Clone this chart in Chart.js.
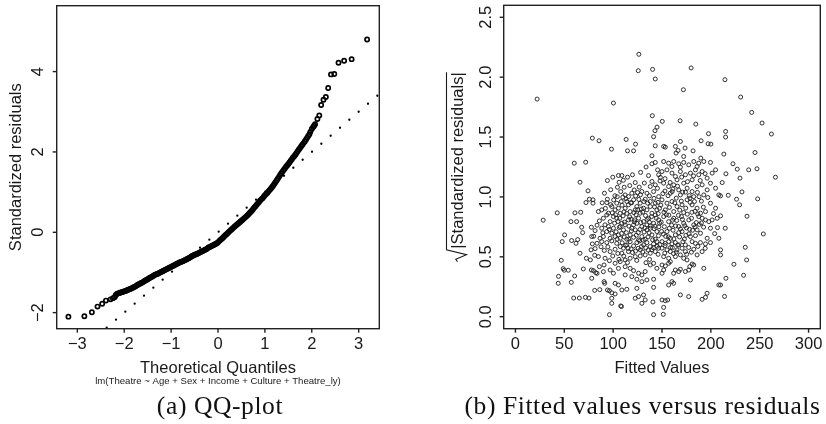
<!DOCTYPE html>
<html><head><meta charset="utf-8">
<script src="https://cdn.jsdelivr.net/npm/chart.js@4.4.1/dist/chart.umd.min.js"></script>
<style>
html,body{margin:0;padding:0;background:#fff;}
#wrap{position:relative;width:826px;height:424px;overflow:hidden;background:#fff;}
canvas{position:absolute;top:0;}
#c1{left:0;} #c2{left:413px;}
</style></head><body>
<div id="wrap"><canvas id="c1" width="413" height="424"></canvas><canvas id="c2" width="413" height="424"></canvas></div>
<script>
// ---------------- (a) QQ-plot data ----------------
const qqTheoretical = [
 -3.19,-2.85,-2.69,-2.57,-2.47,-2.39,-2.29,-2.24,-2.20,-2.18,
 -2.15,-2.10,-2.05,-2.00,-1.95,-1.90,-1.85,-1.80,-1.75,-1.70,-1.65,-1.60,-1.55,-1.50,-1.45,-1.40,-1.35,-1.30,-1.25,-1.20,
 -1.15,-1.10,-1.05,-1.00,-0.95,-0.90,-0.85,-0.80,-0.75,-0.70,-0.65,-0.60,-0.55,-0.50,-0.45,-0.40,-0.35,-0.30,-0.25,-0.20,
 -0.15,-0.10,-0.05,0.00,0.05,0.10,0.15,0.20,0.25,0.30,0.35,0.40,0.45,0.50,0.55,0.60,0.65,0.70,0.75,0.80,
 0.85,0.90,0.95,1.00,1.05,1.10,1.15,1.20,1.25,1.30,1.35,1.40,1.45,1.50,1.55,1.60,1.65,1.70,1.75,1.80,1.85,1.90,1.95,
 1.97,2.00,2.03,2.05,2.07,2.12,2.16,2.20,2.25,2.30,2.35,2.41,2.48,2.57,2.69,2.85,3.18,
 -2.125,-2.075,-2.025,-1.975,-1.925,-1.875,-1.825,-1.775,-1.725,-1.675,-1.625,-1.575,-1.525,-1.475,-1.425,-1.375,-1.325,-1.275,
 -1.225,-1.175,-1.125,-1.075,-1.025,-0.975,-0.925,-0.875,-0.825,-0.775,-0.725,-0.675,-0.625,-0.575,-0.525,-0.475,-0.425,-0.375,
 -0.325,-0.275,-0.225,-0.175,-0.125,-0.075,-0.025,0.025,0.075,0.125,0.175,0.225,0.275,0.325,0.375,0.425,0.475,0.525,
 0.575,0.625,0.675,0.725,0.775,0.825,0.875,0.925,0.975,1.025,1.075,1.125,1.175,1.225,1.275,1.325,1.375,1.425,
 1.475,1.525,1.575,1.625,1.675,1.725,1.775,1.825,1.875,1.925
];
const qqSample = [
 -2.10,-2.09,-1.99,-1.85,-1.78,-1.70,-1.67,-1.64,-1.61,-1.56,
 -1.53,-1.51,-1.49,-1.47,-1.45,-1.42,-1.40,-1.37,-1.34,-1.30,-1.27,-1.24,-1.20,-1.17,-1.13,-1.10,-1.06,-1.04,-1.01,-0.98,
 -0.95,-0.92,-0.89,-0.86,-0.83,-0.80,-0.77,-0.74,-0.72,-0.69,-0.66,-0.63,-0.59,-0.56,-0.54,-0.51,-0.48,-0.45,-0.42,-0.38,
 -0.35,-0.32,-0.29,-0.25,-0.19,-0.14,-0.08,-0.03,0.03,0.08,0.14,0.19,0.24,0.29,0.34,0.39,0.45,0.51,0.58,0.65,
 0.72,0.79,0.85,0.92,0.98,1.05,1.12,1.20,1.29,1.38,1.47,1.55,1.63,1.70,1.78,1.86,1.93,2.02,2.10,2.18,2.26,2.35,2.44,
 2.50,2.57,2.62,2.65,2.69,2.82,2.91,3.17,3.30,3.37,3.59,3.93,3.94,4.22,4.27,4.31,4.80,
 -1.52,-1.50,-1.48,-1.46,-1.435,-1.41,-1.385,-1.355,-1.32,-1.285,-1.255,-1.22,-1.185,-1.15,-1.115,-1.08,-1.05,-1.025,
 -0.995,-0.965,-0.935,-0.905,-0.875,-0.845,-0.815,-0.785,-0.755,-0.73,-0.705,-0.675,-0.645,-0.61,-0.575,-0.55,-0.525,-0.495,
 -0.465,-0.435,-0.40,-0.365,-0.335,-0.305,-0.27,-0.22,-0.165,-0.11,-0.055,0.00,0.055,0.11,0.165,0.215,0.265,0.315,
 0.365,0.42,0.48,0.545,0.615,0.685,0.755,0.82,0.885,0.95,1.015,1.085,1.16,1.245,1.335,1.425,1.51,1.59,
 1.665,1.74,1.82,1.895,1.975,2.06,2.14,2.22,2.305,2.395
];
const qqLineX = [-3.44, 3.44];   // reference line y = x
const qqLineY = [-3.44, 3.44];
const qqXTicks = [-3,-2,-1,0,1,2,3];
const qqYTicks = [-2,0,2,4];

// ---------------- (b) Fitted values vs sqrt|std resid| ----------------
const fittedVsSqrtResid = [
 [22.2,1.817],[126.3,2.191],[125.7,2.054],[140.4,2.065],[143.1,1.985],[179.8,2.077],[214.4,1.979],[171.9,1.895],[230.5,1.834],[100.3,1.784],
 [241.8,1.706],[252.4,1.617],[262.0,1.525],[140.1,1.678],[150.3,1.631],[168.5,1.636],[184.6,1.608],[144.9,1.583],[142.8,1.553],[141.4,1.503],
 [197.6,1.528],[215.1,1.547],[215.1,1.500],[78.7,1.491],[85.6,1.469],[113.3,1.480],[122.9,1.441],[98.3,1.399],[114.7,1.385],[120.9,1.385],
 [143.1,1.427],[151.7,1.422],[139.7,1.344],[168.8,1.463],[163.7,1.422],[166.4,1.388],[164.4,1.366],[190.0,1.469],[197.2,1.444],[200.0,1.441],
 [173.6,1.408],[181.8,1.385],[172.2,1.338],[189.7,1.324],[213.3,1.358],[245.2,1.371],[153.4,1.416],
 [60.2,1.282],[71.9,1.290],[66.1,1.123],[74.3,1.051],[72.2,0.953],[75.7,0.981],[79.4,0.976],[79.4,0.948],[42.8,0.867],[28.4,0.806],
 [60.9,0.867],[66.8,0.872],[56.8,0.794],[62.6,0.794],[84.9,0.878],[67.8,0.747],[68.8,0.702],[77.7,0.747],[83.5,0.764],[50.3,0.683],
 [47.9,0.627],[57.5,0.636],[62.0,0.613],[63.7,0.644],[78.1,0.669],[80.1,0.672],[77.4,0.558],[81.5,0.569],[78.7,0.608],[83.5,0.613],
 [66.1,0.530],[72.6,0.488],[76.7,0.474],[81.1,0.513],[46.9,0.471],[48.9,0.401],[50.0,0.388],[54.1,0.388],[44.1,0.337],[43.8,0.279],
 [57.2,0.287],[60.6,0.340],[69.5,0.399],[77.7,0.390],[79.8,0.385],[82.2,0.368],[78.1,0.321],[81.1,0.220],[59.6,0.156],[65.4,0.156],
 [71.6,0.162],[75.3,0.156],[86.6,0.655],[84.9,0.502],[85.9,0.418],[83.5,0.362],[85.9,0.800],[81.5,0.719],[86.3,0.226],
 [139.7,1.277],[143.1,1.288],[145.5,1.226],[146.6,1.185],[94.1,1.137],[99.6,1.165],[105.4,1.179],[108.9,1.179],[114.7,1.165],[119.8,1.185],
 [122.6,1.120],[139.7,1.129],[143.1,1.101],[138.0,1.087],[104.4,1.081],[111.3,1.081],[107.8,1.045],[112.3,1.017],[109.9,0.998],[115.7,1.003],
 [119.1,1.031],[125.0,1.037],[129.4,1.045],[134.6,1.031],[141.4,1.045],[146.6,1.003],[94.1,0.981],[93.5,0.953],[98.6,0.920],[103.7,0.948],
 [114.0,0.962],[120.9,0.976],[127.7,0.948],[132.8,0.981],[138.0,0.962],[143.1,0.948],[88.3,0.892],[95.2,0.864],[102.0,0.892],[107.2,0.864],
 [112.3,0.906],[117.4,0.878],[122.6,0.892],[127.7,0.864],[134.6,0.892],[139.7,0.864],[144.8,0.892],[90.0,0.822],[96.9,0.794],[103.7,0.822],
 [108.9,0.780],[115.7,0.808],[120.9,0.767],[126.0,0.822],[131.1,0.794],[136.3,0.822],[141.4,0.780],[146.6,0.808],[88.3,0.739],[93.5,0.711],
 [100.3,0.739],[105.4,0.683],[110.6,0.725],[117.4,0.683],[122.6,0.725],[129.4,0.669],[134.6,0.725],[139.7,0.683],[144.8,0.711],[96.9,0.655],
 [114.0,0.647],[126.0,0.641],[143.1,0.647],[91.7,0.767],[95.2,0.753],[98.6,0.697],[102.0,0.669],[107.2,0.753],[112.3,0.767],[119.1,0.739],
 [124.3,0.780],[129.4,0.753],[134.6,0.767],[138.0,0.739],[93.5,0.850],[100.3,0.836],[105.4,0.906],[115.7,0.934],[124.3,0.920],[131.1,0.906],
 [138.0,0.920],[143.1,0.850],[90.0,0.669],[107.2,0.655],[120.9,0.663],[132.8,0.647],
 [91.7,0.488],[96.2,0.468],[90.7,0.432],[102.0,0.446],[107.2,0.460],[112.3,0.474],[117.4,0.488],[122.6,0.502],[127.7,0.507],[132.8,0.516],
 [138.0,0.530],[143.1,0.544],[146.5,0.572],[90.0,0.376],[96.9,0.390],[100.3,0.363],[105.4,0.404],[112.3,0.418],[117.4,0.404],[120.9,0.385],
 [126.0,0.363],[129.4,0.349],[132.8,0.377],[138.0,0.432],[141.4,0.446],[144.8,0.404],[112.3,0.349],[119.1,0.335],[124.3,0.313],[129.4,0.293],
 [134.5,0.307],[141.4,0.313],[90.7,0.293],[91.4,0.279],[102.0,0.279],[105.4,0.265],[94.2,0.223],[96.2,0.217],[98.6,0.200],[102.0,0.190],
 [108.9,0.223],[114.0,0.229],[124.3,0.237],[141.4,0.245],[98.6,0.154],[98.6,0.112],[122.6,0.154],[126.0,0.168],[131.1,0.182],[132.8,0.140],
 [129.4,0.112],[140.7,0.123],[107.8,0.090],[108.5,0.085],[96.2,0.017],[141.4,0.017],[88.3,0.627],[93.5,0.619],[98.6,0.633],[103.7,0.613],
 [107.2,0.586],[110.6,0.572],[114.0,0.600],[117.4,0.627],[120.9,0.591],[124.3,0.619],[127.7,0.558],[131.1,0.600],[134.5,0.619],[138.0,0.586],
 [141.4,0.608],[144.8,0.627],[102.0,0.563],[115.7,0.544],[96.9,0.544],[108.9,0.530],
 [151.7,1.296],[156.8,1.282],[162.0,1.296],[167.1,1.277],[172.2,1.288],[177.4,1.268],[182.5,1.296],[187.6,1.282],[192.8,1.296],[199.6,1.288],
 [160.2,1.254],[168.8,1.249],[185.9,1.254],[150.0,1.212],[155.1,1.226],[160.2,1.199],[163.7,1.171],[168.8,1.212],[174.0,1.185],[179.1,1.199],
 [184.2,1.226],[187.6,1.185],[191.1,1.212],[196.2,1.157],[201.3,1.199],[204.8,1.226],[165.4,1.143],[180.8,1.143],[151.7,1.115],[156.8,1.087],
 [162.0,1.101],[167.1,1.059],[172.2,1.115],[175.7,1.073],[180.8,1.045],[185.9,1.087],[191.1,1.101],[196.2,1.059],[199.6,1.115],[204.8,1.073],
 [208.2,1.017],[158.5,1.031],[168.8,1.017],[182.5,1.003],[192.8,1.017],[150.0,0.976],[155.1,0.948],[160.2,0.962],[165.4,0.920],[170.5,0.934],
 [175.7,0.976],[180.8,0.934],[185.9,0.906],[189.4,0.864],[194.5,0.878],[199.6,0.948],[204.8,0.906],[162.0,0.878],[153.4,0.892],[172.2,0.870],
 [151.7,0.836],[156.8,0.794],[162.0,0.822],[167.1,0.753],[172.2,0.780],[177.4,0.808],[182.5,0.767],[187.6,0.836],[191.1,0.822],[194.5,0.808],
 [197.9,0.794],[201.3,0.808],[206.5,0.822],[155.1,0.711],[163.7,0.683],[170.5,0.711],[179.1,0.669],[185.9,0.725],[189.4,0.697],[199.6,0.739],
 [208.2,0.655],[158.5,0.655],[196.2,0.655],
 [150.0,0.627],[153.4,0.613],[156.8,0.627],[160.2,0.608],[163.7,0.619],[167.1,0.600],[173.9,0.600],[180.8,0.627],[184.2,0.613],[189.3,0.619],
 [194.5,0.608],[199.6,0.619],[150.0,0.572],[155.1,0.558],[158.5,0.544],[165.4,0.558],[170.5,0.572],[173.9,0.544],[182.5,0.563],[191.0,0.544],
 [209.9,0.558],[209.9,0.516],[151.7,0.502],[156.8,0.488],[163.7,0.502],[168.8,0.516],[172.2,0.488],[175.6,0.474],[185.9,0.516],[150.0,0.432],
 [153.4,0.424],[156.8,0.446],[158.5,0.460],[161.9,0.363],[163.7,0.390],[167.1,0.377],[168.8,0.396],[173.9,0.377],[177.3,0.390],[180.8,0.440],
 [182.5,0.432],[178.4,0.418],[192.8,0.404],[151.7,0.390],[150.0,0.363],[160.2,0.293],[161.9,0.279],[156.8,0.265],[179.1,0.307],[208.2,0.265],
 [168.8,0.182],[177.3,0.168],[191.0,0.145],[196.1,0.196],[194.5,0.162],[150.0,0.140],[153.4,0.134],[155.8,0.140],[151.7,0.078],[151.3,0.020],
 [222.6,1.277],[227.0,1.232],[238.7,1.226],[247.2,1.235],[215.4,1.193],[211.6,1.120],[229.8,1.157],[266.1,1.165],[209.9,1.009],[217.8,1.014],
 [231.8,1.042],[226.3,0.981],[229.4,0.934],[247.9,0.984],[209.9,0.842],[237.0,0.839],[214.7,0.739],[253.7,0.691],[235.2,0.580],[236.6,0.474],
 [223.6,0.438],[215.4,0.321],[233.5,0.346],[209.9,0.265],[214.0,0.170],[206.8,0.744],
 [97.5,1.060],[101.8,1.010],[106.1,1.122],[110.4,1.139],[117.0,1.095],[121.5,1.058],[126.7,1.082],[131.9,1.116],[136.2,1.178],[128.1,1.205],
 [133.7,1.250],[145.3,1.072],[148.0,1.133],
 [99.1,0.868],[104.9,0.795],[110.2,0.842],[118.3,0.815],[123.4,0.851],[128.8,0.899],[133.1,0.845],[137.2,0.789],[142.3,0.917],[146.1,0.861],
 [96.1,0.728],[103.0,0.709],[108.6,0.695],[113.5,0.702],[118.6,0.716],[125.7,0.703],[131.7,0.707],[136.8,0.700],[141.9,0.735],[146.8,0.751],
 [92.1,0.905],[97.4,0.936],[109.1,0.931],[118.9,0.951],[126.3,0.979],[135.3,0.948],[111.1,0.876],[128.3,0.786],[122.1,0.809],
 [148.3,1.164],[153.1,1.153],[158.3,1.121],[170.1,1.166],[176.1,1.128],[182.3,1.176],[189.1,1.137],[194.1,1.195],[153.0,1.049],[161.2,1.066],
 [165.9,1.090],[171.1,1.040],[177.9,1.011],[186.2,1.038],[190.3,0.965],[196.9,0.995],[148.8,0.932],[157.6,0.913],[163.1,0.951],[168.1,0.890],
 [174.3,0.907],[178.8,0.955],[183.9,0.880],[192.3,0.915],[149.2,0.789],[154.5,0.851],[159.8,0.765],[165.1,0.803],[169.9,0.836],[175.1,0.741],
 [180.2,0.822],[185.1,0.786],[149.6,0.712],[153.8,0.671],[161.3,0.722],[167.2,0.702],[174.5,0.680],[181.3,0.722],[192.6,0.748],[202.7,0.861],
 [203.9,0.694],
 [99.6,0.507],[104.8,0.528],[110.9,0.506],[115.3,0.571],[119.8,0.536],[125.6,0.571],[130.3,0.541],[135.9,0.556],[141.1,0.575],[146.0,0.521],
 [152.8,0.531],[160.6,0.576],[165.9,0.598],[171.4,0.626],[177.3,0.578],[186.7,0.587],[194.2,0.571],[161.8,0.527],[109.2,0.617],[127.1,0.633],
 [147.9,0.602],[137.3,0.478],[94.6,0.583],
 [88.8,0.951],[91.1,1.031],[87.6,0.584],[90.9,0.553],[89.4,0.701],
 [100.5,0.975],[104.2,1.002],[108.3,0.962],[113.2,0.985],[117.9,0.952],[123.0,1.008],[128.0,1.018],[131.4,0.962],[137.1,1.009],[141.8,0.988],
 [145.9,0.955],[150.9,1.028],[156.2,1.010],[160.4,1.045],[164.6,0.990],[169.8,0.965],[174.0,1.040],[178.6,0.990],[183.2,0.962],[187.9,1.002],
 [102.6,0.851],[106.8,0.822],[113.9,0.862],[116.9,0.834],[121.2,0.869],[125.1,0.894],[130.3,0.873],[134.9,0.812],[139.2,0.835],[144.1,0.823],
 [147.5,0.905],[152.0,0.872],[157.0,0.848],[160.9,0.806],[166.8,0.846],[170.9,0.812],[175.9,0.856],[180.6,0.872],[186.5,0.858],[190.3,0.783],
 [101.5,0.781],[106.3,0.745],[111.6,0.790],[116.2,0.756],[121.8,0.792],[127.5,0.728],[132.4,0.742],[137.9,0.758],[142.7,0.756],[147.6,0.780],
 [152.4,0.752],[157.5,0.738],[163.9,0.758],[168.9,0.733],[173.3,0.760],[178.2,0.730],[183.9,0.750],[188.2,0.771],
 [104.1,0.648],[111.4,0.665],[116.1,0.648],[123.7,0.680],[130.8,0.640],[135.7,0.666],[140.4,0.642],[146.4,0.676],[151.3,0.690],[156.6,0.667],
 [162.2,0.650],[168.0,0.666],[172.9,0.648],[177.6,0.692],[184.2,0.677],
 [112.6,0.596],[118.4,0.566],[122.9,0.548],[129.0,0.586],[133.4,0.575],[139.6,0.560],[145.1,0.588],[153.2,0.594],[158.8,0.578],[164.6,0.540],
 [175.3,0.521],[180.1,0.539],[105.9,0.479],[114.6,0.452],[124.2,0.470],[133.6,0.451]
];
const fvXTicks = [0,50,100,150,200,250,300];
const fvYTicks = [0,0.5,1,1.5,2,2.5];
const fvYTickLabels = ['0.0','0.5','1.0','1.5','2.0','2.5'];

// ---------------- drawing helpers ----------------
const SANS = '"Liberation Sans", Arial, Helvetica, sans-serif';
const SERIF = '"Liberation Serif", "Times New Roman", serif';
const INK = '#1a1a1a';
const minus = s => String(s).replace('-', '\u2212');

function rAxes(opt) {
  return {
    id: 'rAxes',
    afterDatasetsDraw(chart) {
      const ctx = chart.ctx, a = chart.chartArea;
      const xs = chart.scales.x, ys = chart.scales.y;
      ctx.save();
      ctx.strokeStyle = '#222'; ctx.lineWidth = 1.4;
      ctx.strokeRect(a.left, a.top, a.right - a.left, a.bottom - a.top);
      ctx.fillStyle = INK;
      ctx.font = '16.5px ' + SANS;
      ctx.textAlign = 'center'; ctx.textBaseline = 'alphabetic';
      opt.xTicks.forEach((v, i) => {
        const p = xs.getPixelForValue(v);
        if (opt.tick) { ctx.beginPath(); ctx.moveTo(p, a.bottom); ctx.lineTo(p, a.bottom + opt.tick); ctx.stroke(); }
        ctx.fillText(opt.xLabels[i], p, opt.xLabelBase);
      });
      opt.yTicks.forEach((v, i) => {
        const p = ys.getPixelForValue(v);
        if (opt.tick) { ctx.beginPath(); ctx.moveTo(a.left, p); ctx.lineTo(a.left - opt.tick, p); ctx.stroke(); }
        ctx.save(); ctx.translate(opt.yLabelBase, p); ctx.rotate(-Math.PI / 2);
        ctx.fillText(opt.yLabels[i], 0, 0); ctx.restore();
      });
      const cx = (a.left + a.right) / 2, cy = (a.top + a.bottom) / 2;
      ctx.fillText(opt.xTitle, cx, opt.xTitleBase);
      if (opt.sub) {
        ctx.font = '9.6px ' + SANS;
        ctx.fillText(opt.sub, cx, opt.subBase);
        ctx.font = '16.5px ' + SANS;
      }
      ctx.save(); ctx.translate(opt.yTitleBase, cy); ctx.rotate(-Math.PI / 2);
      if (opt.sqrtTitle) {
        const t = opt.yTitle;
        const w = ctx.measureText(t).width;
        const rad = 13;
        const u0 = -(w + rad) / 2 + rad;
        ctx.textAlign = 'left';
        ctx.fillText(t, u0, 0);
        ctx.beginPath();
        ctx.moveTo(u0 - 13, -5.5);
        ctx.lineTo(u0 - 10.5, -7.2);
        ctx.lineTo(u0 - 6, 3.5);
        ctx.lineTo(u0 - 1, -16.5);
        ctx.lineTo(u0 + w, -16.5);
        ctx.lineWidth = 1.1; ctx.strokeStyle = INK; ctx.stroke();
      } else {
        ctx.fillText(opt.yTitle, 0, 0);
      }
      ctx.restore();
      // caption
      ctx.font = '25.5px ' + SERIF;
      ctx.letterSpacing = '0.6px';
      ctx.fillStyle = '#111';
      ctx.fillText(opt.caption, opt.capX, opt.capBase);
      ctx.restore();
    }
  };
}

Chart.defaults.font.family = SANS;

new Chart(document.getElementById('c1'), {
  data: {
    datasets: [
      {
        type: 'scatter',
        data: qqTheoretical.map((x, i) => ({ x: x, y: qqSample[i] })),
        pointRadius: 2.1, pointBorderWidth: 1.7,
        pointBorderColor: '#000', pointBackgroundColor: 'rgba(0,0,0,0)',
        clip: 3
      },
      {
        type: 'line',
        data: qqLineX.map((x, i) => ({ x: x, y: qqLineY[i] })),
        borderColor: '#000', borderWidth: 2.3,
        borderDash: [0, 12.29], borderDashOffset: 7.93, borderCapStyle: 'round',
        pointRadius: 0, fill: false, tension: 0, clip: 0
      }
    ]
  },
  options: {
    responsive: false, animation: false, devicePixelRatio: 1, events: [],
    layout: { padding: { left: 56.7, right: 33.7, top: 5, bottom: 95.3 } },
    plugins: { legend: { display: false }, tooltip: { enabled: false } },
    scales: {
      x: { type: 'linear', min: -3.44, max: 3.44, display: false },
      y: { type: 'linear', min: -2.40, max: 5.64, display: false }
    }
  },
  plugins: [rAxes({
    xTicks: qqXTicks, xLabels: qqXTicks.map(minus),
    yTicks: qqYTicks, yLabels: qqYTicks.map(minus),
    tick: 4, xLabelBase: 349.3, yLabelBase: 43.3,
    xTitle: 'Theoretical Quantiles', xTitleBase: 373,
    sub: 'lm(Theatre ~ Age + Sex + Income + Culture + Theatre_ly)', subBase: 384,
    yTitle: 'Standardized residuals', yTitleBase: 20.7,
    caption: '(a) QQ-plot', capX: 220, capBase: 414
  })]
});

new Chart(document.getElementById('c2'), {
  type: 'scatter',
  data: {
    datasets: [{
      data: fittedVsSqrtResid.map(p => ({ x: p[0], y: p[1] })),
      pointRadius: 2.0, pointBorderWidth: 0.95,
      pointBorderColor: '#262626', pointBackgroundColor: 'rgba(0,0,0,0)',
      clip: 3
    }]
  },
  options: {
    responsive: false, animation: false, devicePixelRatio: 1, events: [],
    layout: { padding: { left: 90.7, right: 5.7, top: 5.3, bottom: 95.3 } },
    plugins: { legend: { display: false }, tooltip: { enabled: false } },
    scales: {
      x: { type: 'linear', min: -12, max: 312, display: false },
      y: { type: 'linear', min: -0.1, max: 2.6, display: false }
    }
  },
  plugins: [rAxes({
    xTicks: fvXTicks, xLabels: fvXTicks.map(String),
    yTicks: fvYTicks, yLabels: fvYTickLabels,
    tick: 4, xLabelBase: 349.3, yLabelBase: 78.3,
    xTitle: 'Fitted Values', xTitleBase: 372.5,
    yTitle: '|Standardized residuals|', yTitleBase: 50, sqrtTitle: true,
    caption: '(b) Fitted values versus residuals', capX: 229.5, capBase: 414
  })]
});
</script>
</body></html>
